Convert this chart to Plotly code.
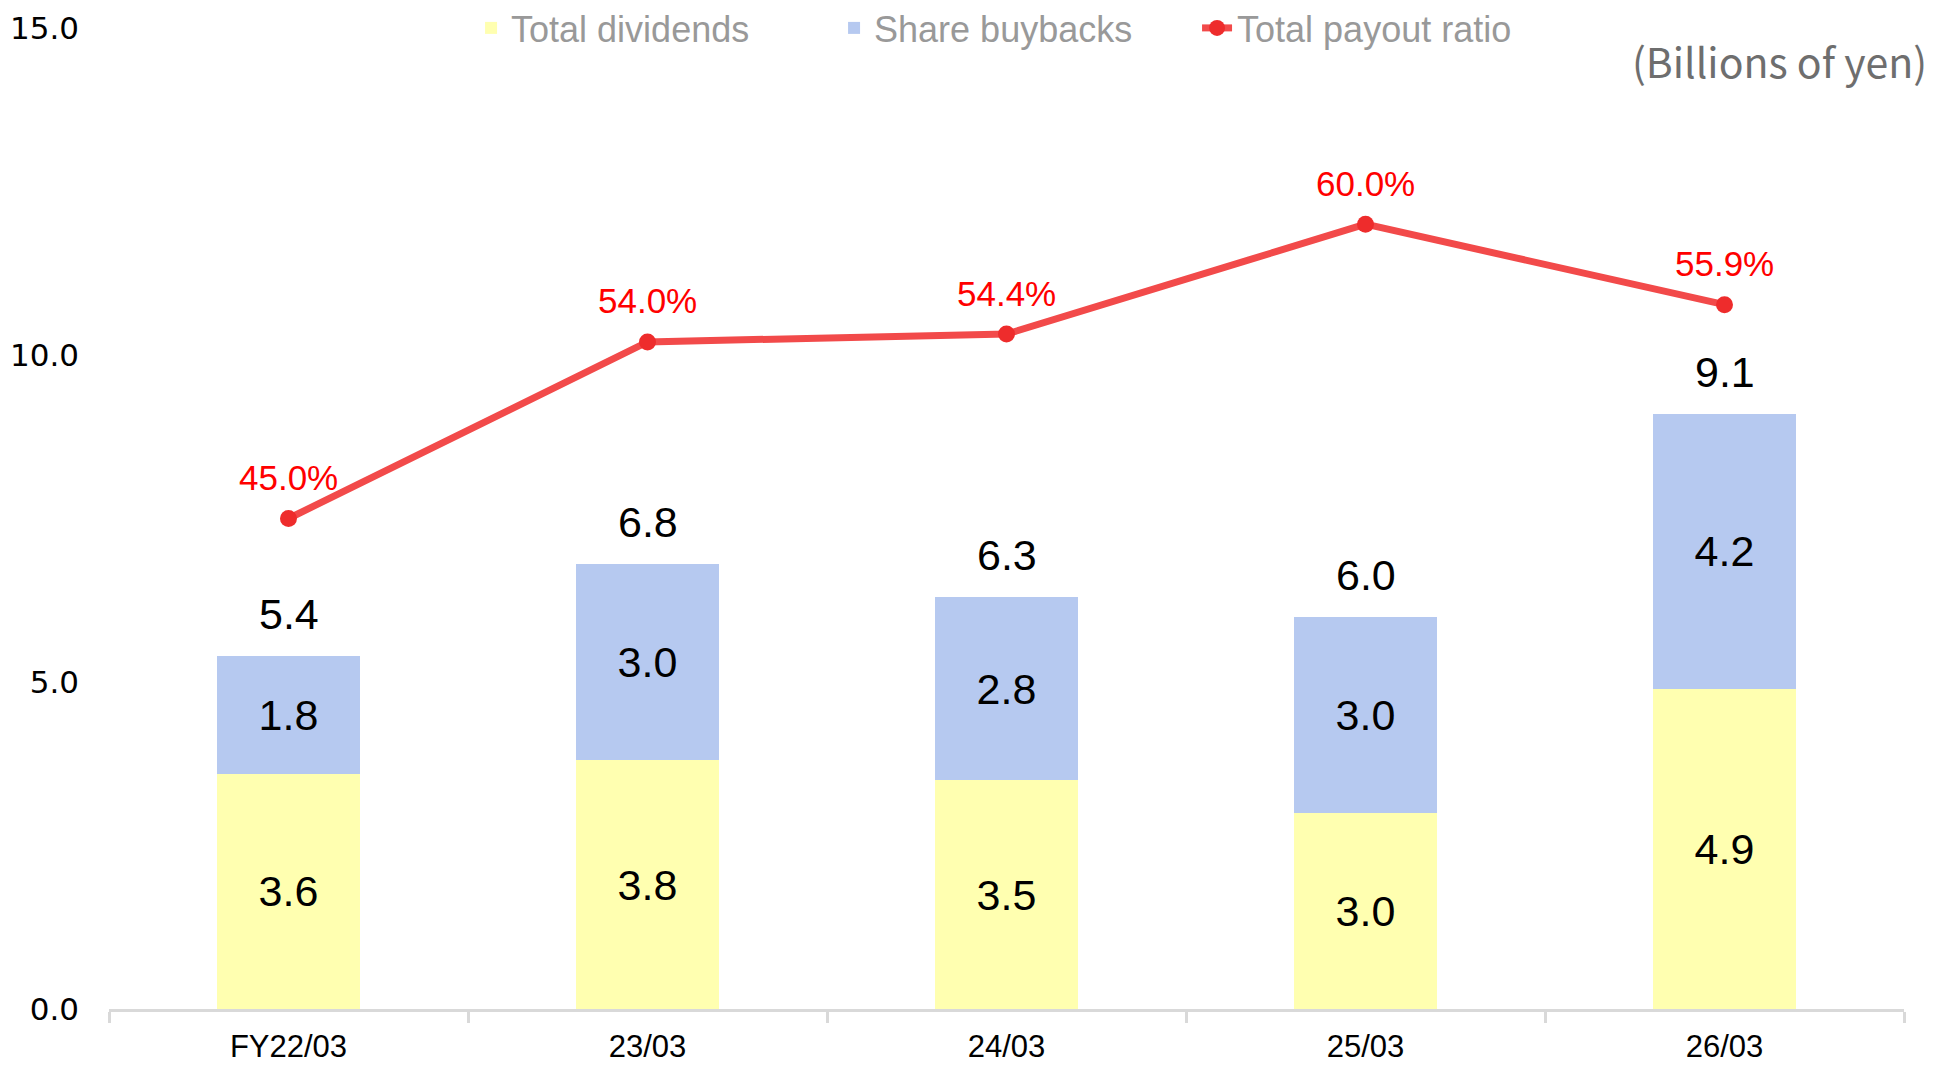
import plotly.graph_objects as go

categories = ["FY22/03", "23/03", "24/03", "25/03", "26/03"]
dividends = [3.6, 3.8, 3.5, 3.0, 4.9]
buybacks = [1.8, 3.0, 2.8, 3.0, 4.2]
totals = [5.4, 6.8, 6.3, 6.0, 9.1]
payout_ratio = [45.0, 54.0, 54.4, 60.0, 55.9]
y_ticks = [0, 5, 10, 15]

FONT = "Liberation Sans, Arial, sans-serif"

fig = go.Figure()

fig.add_trace(go.Bar(
    x=categories, y=dividends, name="Total dividends",
    marker=dict(color="#FFFFB0", line=dict(width=0)),
    texttemplate="%{y:.1f}", textposition="inside", insidetextanchor="middle",
    textfont=dict(family=FONT, size=43, color="#000000"),
    constraintext="none",
))
fig.add_trace(go.Bar(
    x=categories, y=buybacks, name="Share buybacks",
    marker=dict(color="#B6C9F0", line=dict(width=0)),
    texttemplate="%{y:.1f}", textposition="inside", insidetextanchor="middle",
    textfont=dict(family=FONT, size=43, color="#000000"),
    constraintext="none",
))
fig.add_trace(go.Scatter(
    x=categories, y=payout_ratio, name="Total payout ratio", yaxis="y2",
    mode="lines+markers",
    line=dict(color="#F24A4A", width=7),
    marker=dict(color="#EE2C2C", size=17),
))

annotations = []
for c, t in zip(categories, totals):
    annotations.append(dict(
        x=c, y=t, xref="x", yref="y", text=f"{t:.1f}", showarrow=False,
        yanchor="middle", yshift=42,
        font=dict(family=FONT, size=43, color="#000000"),
    ))
for c, p in zip(categories, payout_ratio):
    annotations.append(dict(
        x=c, y=p, xref="x", yref="y2", text=f"{p:.1f}%", showarrow=False,
        yanchor="middle", yshift=41,
        font=dict(family=FONT, size=35, color="#FF0000"),
    ))
annotations.append(dict(
    x=1, y=0.967, xref="paper", yref="paper", text="(Billions of yen)",
    showarrow=False, xanchor="right", yanchor="middle", xshift=25,
    font=dict(family="Noto Sans CJK JP, sans-serif", size=41, color="#6E6E6E"),
))

fig.update_layout(
    width=1934, height=1065,
    barmode="stack", bargap=0.6,
    plot_bgcolor="white", paper_bgcolor="white",
    margin=dict(l=109, r=30, t=28, b=56, autoexpand=False),
    showlegend=True,
    legend=dict(
        orientation="h", x=0.2017, xanchor="left", y=1.0, yanchor="middle",
        font=dict(family=FONT, size=36, color="#999999"),
        bgcolor="rgba(0,0,0,0)", traceorder="normal",
        entrywidth=318, entrywidthmode="pixels",
    ),
    xaxis=dict(
        type="category", showgrid=False, showline=True, linecolor="#D9D9D9",
        linewidth=3, ticks="outside", tickson="boundaries", ticklen=11,
        tickwidth=3, tickcolor="#D9D9D9", ticklabelstandoff=8,
        tickfont=dict(family=FONT, size=31, color="#000000"),
    ),
    yaxis=dict(
        range=[0, 15], tickvals=y_ticks, tickformat=".1f", showgrid=False,
        zeroline=False, showline=False, ticklabelstandoff=29,
        tickfont=dict(family="DejaVu Sans, sans-serif", size=31, color="#000000"),
    ),
    yaxis2=dict(
        range=[20, 70], overlaying="y", side="right", visible=False,
        showgrid=False, zeroline=False,
    ),
    annotations=annotations,
)

fig.write_html(
    "out.html",
    config={"displayModeBar": False},
    post_script="document.body.style.margin='0';document.body.style.overflow='hidden';",
)
